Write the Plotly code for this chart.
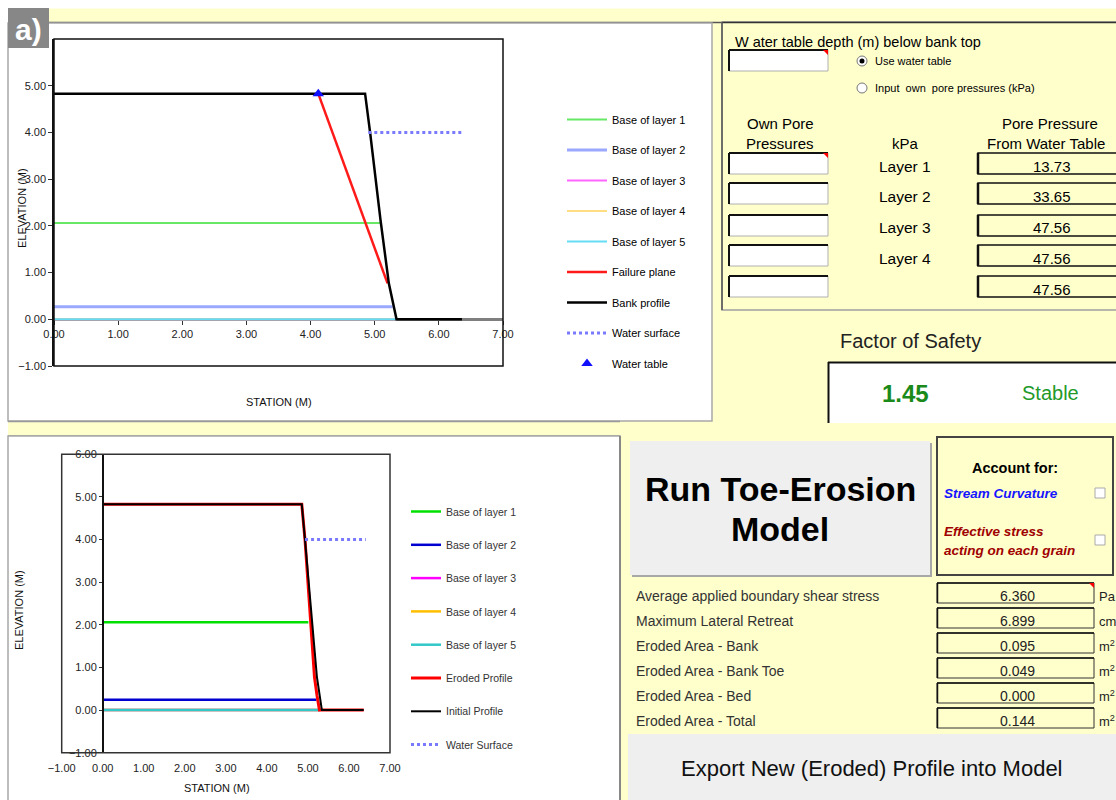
import plotly.graph_objects as go

W, H = 1116, 800

# ---------------- data ----------------
profile_station = [0.00, 4.85, 4.93, 5.09, 5.22, 5.34, 6.36]
profile_elev = [4.83, 4.83, 3.98, 2.13, 0.77, 0.00, 0.00]
eroded_station = [0.00, 4.85, 4.93, 5.07, 5.16, 5.22, 5.28, 6.36]
eroded_elev = [4.83, 4.83, 3.98, 2.13, 0.77, 0.35, 0.00, 0.00]
failure_station = [4.12, 5.20]
failure_elev = [4.83, 0.77]
watertable_station = [4.12]
watertable_elev = [4.83]
ws_top_station = [4.90, 6.37]
ws_bot_station = [4.93, 6.41]
ws_elev = [4.00, 4.00]

layer_names_top = ["Base of layer 1", "Base of layer 2", "Base of layer 3", "Base of layer 4", "Base of layer 5"]
layer_elev_top = [2.06, 0.27, 0.00, 0.00, 0.00]
layer_end_top = [5.09, 5.28, 5.34, 5.34, 5.34]
layer_elev_bot = [2.06, 0.24, 0.00, 0.00, 0.00]
layer_end_bot = [5.01, 5.21, 5.30, 5.30, 5.30]

x_ticks_top = [0, 1, 2, 3, 4, 5, 6, 7]
y_ticks_top = [-1, 0, 1, 2, 3, 4, 5]
x_ticks_bot = [-1, 0, 1, 2, 3, 4, 5, 6, 7]
y_ticks_bot = [-1, 0, 1, 2, 3, 4, 5, 6]

pore_layers = ["Layer 1", "Layer 2", "Layer 3", "Layer 4", ""]
pore_values = ["13.73", "33.65", "47.56", "47.56", "47.56"]
fos_value = "1.45"
fos_state = "Stable"

erosion_labels = ["Average applied boundary shear stress", "Maximum Lateral Retreat",
                  "Eroded Area - Bank", "Eroded Area - Bank Toe", "Eroded Area - Bed",
                  "Eroded Area - Total"]
erosion_values = ["6.360", "6.899", "0.095", "0.049", "0.000", "0.144"]
erosion_units = ["Pa", "cm", "m<sup>2</sup>", "m<sup>2</sup>", "m<sup>2</sup>", "m<sup>2</sup>"]

# ---------------- styles ----------------
top_layer_colors = ["#66e866", "#9aa8ff", "#ff66ff", "#ffdd80", "#66ddf5"]
bot_layer_colors = ["#00e000", "#0000d0", "#ff00ff", "#ffbf00", "#33c8c8"]
YEL = "#ffffcc"
FONT = "Liberation Sans, Arial, sans-serif"


def px(x):
    return x / W


def py(y):
    return 1 - y / H


shapes = []
annotations = []


def rect(x0, y0, x1, y1, fill="rgba(0,0,0,0)", line=None, lw=1, layer="below"):
    shapes.append(dict(type="rect", xref="paper", yref="paper",
                       x0=px(x0), x1=px(x1), y0=py(y1), y1=py(y0),
                       fillcolor=fill,
                       line=dict(color=line if line else "rgba(0,0,0,0)", width=lw if line else 0),
                       layer=layer))


def hline(x0, x1, y, color, lw=1, layer="below"):
    shapes.append(dict(type="line", xref="paper", yref="paper", x0=px(x0), x1=px(x1),
                       y0=py(y), y1=py(y), line=dict(color=color, width=lw), layer=layer))


def vline(x, y0, y1, color, lw=1, layer="below"):
    shapes.append(dict(type="line", xref="paper", yref="paper", x0=px(x), x1=px(x),
                       y0=py(y0), y1=py(y1), line=dict(color=color, width=lw), layer=layer))


def redcorner(x1, y0, s=5):
    shapes.append(dict(type="path", xref="paper", yref="paper",
                       path=f"M {px(x1 - s)},{py(y0)} L {px(x1)},{py(y0)} L {px(x1)},{py(y0 + s)} Z",
                       fillcolor="red", line=dict(width=0), layer="above"))


def ann(x, y, text, size=14, color="black", xanchor="center", yanchor="middle", family=FONT, angle=0):
    annotations.append(dict(x=px(x), y=py(y), xref="paper", yref="paper", text=text,
                            showarrow=False, xanchor=xanchor, yanchor=yanchor, textangle=angle,
                            font=dict(size=size, color=color, family=family)))


def inbox(x0, y0, x1, y1, fill="white"):
    rect(x0, y0, x1, y1, fill, "#b0b0b0", 1)
    hline(x0, x1, y0, "#111", 2)
    vline(x0, y0, y1, "#111", 2)


# ---------------- background panels ----------------
rect(0, 0, W, 8.5, "white")
rect(0, 0, 8, H, "white")
# top strip
hline(49, W, 22.5, "#555", 1.5)
# label box
rect(8, 8, 49, 48, "#878787", layer="above")
ann(28, 30, "<b>a)</b>", size=30, color="white")
# top chart panel
rect(8, 23, 712, 421, "white", "#a8a8a8", 1.5)
# strip between charts
hline(8, 620, 421.5, "#999", 1.5)
hline(8, 620, 436, "#999", 1.5)
# bottom chart panel
rect(8, 436, 620, 802, "white", "#a8a8a8", 1.5)
vline(620, 436, 800, "#888", 2)

# top-right box
rect(722, 22, 1120, 310, YEL, "#a0a0a0", 1.5)
hline(722, 1116, 22.5, "#333", 1.5)
vline(722, 22, 310, "#555", 1.5)

ann(733, 42, "W ater table depth (m) below bank top", size=14.5, xanchor="left")
inbox(729, 50, 828, 71)
redcorner(828, 50)

# radio buttons
for cy, lbl, sel in [(61, "Use water table", True), (88, "Input  own  pore pressures (kPa)", False)]:
    shapes.append(dict(type="circle", xref="paper", yref="paper", x0=px(857), x1=px(867),
                       y0=py(cy + 5), y1=py(cy - 5), fillcolor="white",
                       line=dict(color="#777", width=1), layer="above"))
    if sel:
        shapes.append(dict(type="circle", xref="paper", yref="paper", x0=px(859.5), x1=px(864.5),
                           y0=py(cy + 2.5), y1=py(cy - 2.5), fillcolor="black",
                           line=dict(width=0), layer="above"))
    ann(873, cy, lbl, size=11, xanchor="left")

ann(780, 123, "Own Pore", size=15)
ann(780, 144, "Pressures", size=15)
ann(905, 144, "kPa", size=15)
ann(1050, 123, "Pore Pressure", size=15)
ann(1046, 144, "From Water Table", size=15)

row_tops = [153, 183, 215, 245, 276]
for i, t in enumerate(row_tops):
    inbox(729, t, 828, t + 21)
    rect(978, t, 1130, t + 21, YEL, "#111", 1.5)
    vline(978, t, t + 21, "#111", 2.5)
    if pore_layers[i]:
        ann(905, t + 13, pore_layers[i], size=15.5)
    ann(1052, t + 13, pore_values[i], size=15)
redcorner(828, 153)

# Factor of safety
ann(910, 341, "Factor of Safety", size=20, color="#222")
rect(828, 362, 1125, 423, "white")
hline(828, 1116, 362.5, "#111", 2)
vline(828.5, 362, 423, "#111", 2)
ann(905, 393, "<b>" + fos_value + "</b>", size=24, color="#1a8a1a")
ann(1050, 393, fos_state, size=20, color="#23992a")

# ---------------- bottom right ----------------
rect(632, 443, 932, 577, "#a8a8a8")
rect(630, 441, 930, 575, "#efefef")
ann(780, 489, "<b>Run Toe-Erosion</b>", size=34)
ann(780, 529, "<b>Model</b>", size=34)

rect(937, 437, 1113, 575, YEL, "#444", 2)
ann(1015, 468, "<b>Account for:</b>", size=14.5)
ann(942, 493, "<b><i>Stream Curvature</i></b>", size=13.5, color="#1414ff", xanchor="left")
ann(942, 531, "<b><i>Effective stress</i></b>", size=13.5, color="#a00000", xanchor="left")
ann(942, 550, "<b><i>acting on each grain</i></b>", size=13.5, color="#a00000", xanchor="left")
for cy in [493, 540]:
    rect(1095, cy - 5, 1105, cy + 5, "white", "#aaa", 1)

row_centers = [596, 621, 646, 671, 696, 721]
for i, c in enumerate(row_centers):
    ann(634, c, erosion_labels[i], size=14, color="#333", xanchor="left")
    rect(937, c - 13, 1094, c + 7, YEL, "#333", 1)
    hline(937, 1094, c - 13, "#111", 1.5)
    vline(937.5, c - 13, c + 7, "#111", 1.5)
    ann(1017, c, erosion_values[i], size=14, color="#222")
    ann(1097, c, erosion_units[i], size=13, color="#222", xanchor="left")
redcorner(1094, 583)

rect(628, 734, 1120, 805, "#efefef")
ann(872, 768, "Export New (Eroded) Profile into Model", size=22, color="#111")

# ---------------- charts ----------------
fig = go.Figure()

for i in range(5):
    fig.add_trace(go.Scatter(x=[0, layer_end_top[i]], y=[layer_elev_top[i]] * 2, mode="lines",
                             name=layer_names_top[i],
                             line=dict(color=top_layer_colors[i], width=3 if i == 1 else 2),
                             xaxis="x", yaxis="y", legend="legend", legendgroup=f"t{i}"))
fig.add_trace(go.Scatter(x=failure_station, y=failure_elev, mode="lines", name="Failure plane",
                         line=dict(color="#ff1a1a", width=2.5), xaxis="x", yaxis="y",
                         legend="legend", legendgroup="t5"))
fig.add_trace(go.Scatter(x=profile_station, y=profile_elev, mode="lines", name="Bank profile",
                         line=dict(color="black", width=2.5), xaxis="x", yaxis="y",
                         legend="legend", legendgroup="t6"))
fig.add_trace(go.Scatter(x=ws_top_station, y=ws_elev, mode="lines", name="Water surface",
                         line=dict(color="#7a7aff", width=3, dash="dot"), xaxis="x", yaxis="y",
                         legend="legend", legendgroup="t7"))
fig.add_trace(go.Scatter(x=watertable_station, y=watertable_elev, mode="markers", name="Water table",
                         marker=dict(symbol="triangle-up", color="#1010ff", size=10),
                         xaxis="x", yaxis="y", legend="legend", legendgroup="t8"))

for i in range(5):
    fig.add_trace(go.Scatter(x=[0, layer_end_bot[i]], y=[layer_elev_bot[i]] * 2, mode="lines",
                             name=layer_names_top[i],
                             line=dict(color=bot_layer_colors[i], width=2.5),
                             xaxis="x2", yaxis="y2", legend="legend2", legendgroup=f"b{i}"))
fig.add_trace(go.Scatter(x=eroded_station, y=eroded_elev, mode="lines", name="Eroded Profile",
                         line=dict(color="#ff0000", width=3), xaxis="x2", yaxis="y2",
                         legend="legend2", legendgroup="b5"))
fig.add_trace(go.Scatter(x=profile_station, y=profile_elev, mode="lines", name="Initial Profile",
                         line=dict(color="black", width=2), xaxis="x2", yaxis="y2",
                         legend="legend2", legendgroup="b6"))
fig.add_trace(go.Scatter(x=ws_bot_station, y=ws_elev, mode="lines", name="Water Surface",
                         line=dict(color="#7a7aff", width=3, dash="dot"), xaxis="x2", yaxis="y2",
                         legend="legend2", legendgroup="b7"))

# domains
xd1 = [px(54), px(503)]
yd1 = [py(366), py(39)]
xd2 = [px(61.7), px(390)]
yd2 = [py(752.7), py(454.3)]
x_axis_pos_top = yd1[0] + (0 - (-1)) / 7 * (yd1[1] - yd1[0])
y_axis_pos_bot = xd2[0] + (0 - (-1)) / 8 * (xd2[1] - xd2[0])

tickfont = dict(size=11, color="#222", family=FONT)

shapes.append(dict(type="rect", xref="x domain", yref="y domain", x0=0, x1=1, y0=0, y1=1,
                   line=dict(color="#111", width=1.5), layer="above"))
shapes.append(dict(type="rect", xref="x2 domain", yref="y2 domain", x0=0, x1=1, y0=0, y1=1,
                   line=dict(color="#333", width=1.5), layer="above"))

ann(22, 208, "ELEVATION (M)", size=11, color="#111", angle=-90)
ann(279, 402, "STATION (M)", size=11, color="#111")
ann(19, 610, "ELEVATION (M)", size=11, color="#111", angle=-90)
ann(217, 788, "STATION (M)", size=11, color="#111")

fig.update_layout(
    width=W, height=H,
    margin=dict(l=0, r=0, t=0, b=0, pad=0, autoexpand=False),
    paper_bgcolor=YEL, plot_bgcolor="white",
    font=dict(family=FONT, size=11, color="black"),
    showlegend=True,
    xaxis=dict(domain=xd1, range=[0, 7], anchor="free", position=x_axis_pos_top,
               showline=True, linecolor="#7f7f7f", linewidth=2.5, ticks="outside", ticklen=4,
               tickcolor="#333", tickvals=x_ticks_top, tickformat=".2f", showgrid=False,
               zeroline=False, tickfont=tickfont, layer="below traces"),
    yaxis=dict(domain=yd1, range=[-1, 6], anchor="x", showline=True, linecolor="#111",
               linewidth=1.5, ticks="outside", ticklen=4, tickcolor="#333", tickvals=y_ticks_top,
               tickformat=".2f", showgrid=False, zeroline=False, tickfont=tickfont),
    xaxis2=dict(domain=xd2, range=[-1, 7], anchor="y2", showline=False, ticks="outside",
                ticklen=5, tickcolor="rgba(0,0,0,0)", tickvals=x_ticks_bot, tickformat=".2f",
                showgrid=False, zeroline=False, tickfont=tickfont),
    yaxis2=dict(domain=yd2, range=[-1, 6], anchor="free", position=y_axis_pos_bot, showline=True,
                linecolor="#111", linewidth=1.5, ticks="outside", ticklen=3, tickcolor="#333",
                tickvals=y_ticks_bot, tickformat=".2f", showgrid=False, zeroline=False,
                tickfont=tickfont),
    legend=dict(x=px(562), y=py(105), xanchor="left", yanchor="top", bgcolor="rgba(0,0,0,0)",
                font=dict(size=11, color="black", family=FONT), tracegroupgap=11.5,
                itemwidth=40, itemclick=False, itemdoubleclick=False),
    legend2=dict(x=px(406), y=py(497), xanchor="left", yanchor="top", bgcolor="rgba(0,0,0,0)",
                 font=dict(size=10.5, color="#333", family=FONT), tracegroupgap=14.3,
                 itemclick=False, itemdoubleclick=False),
    shapes=shapes,
    annotations=annotations,
)

fig.write_html("out.html", config={"displayModeBar": False},
               post_script="document.body.style.margin='0px';document.body.style.padding='0px';")
